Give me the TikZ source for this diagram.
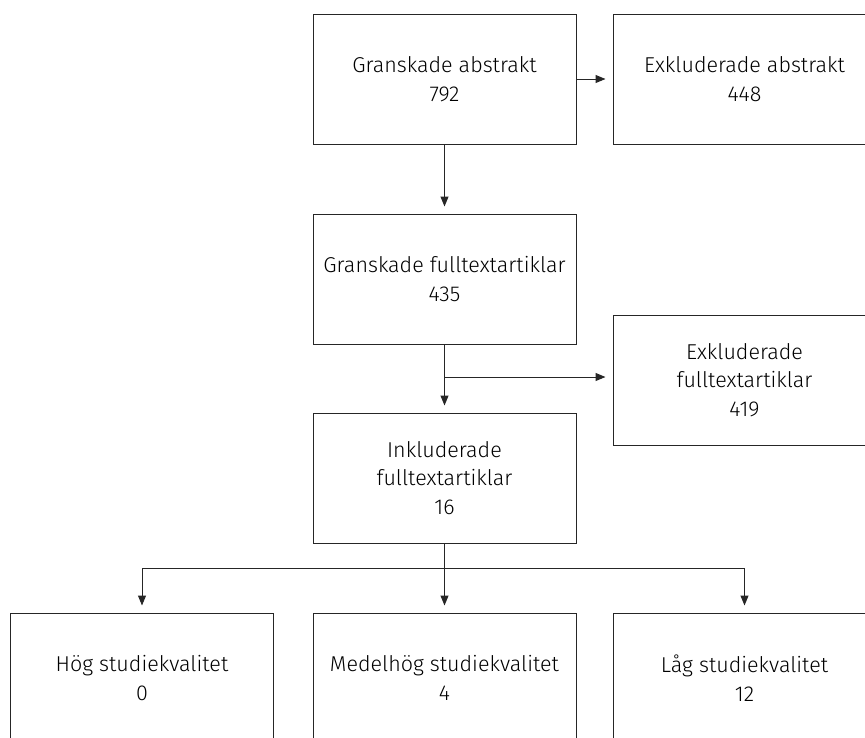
\documentclass[tikz,border=0pt]{standalone}
\usepackage{fontspec}
\setmainfont{Fira Sans}[UprightFont=* Light, Ligatures=NoCommon]
\usetikzlibrary{arrows.meta}
\tikzset{
  box/.style={draw=black!85, line width=1pt, minimum width=263pt, minimum height=130pt,
    align=center, inner sep=0pt, font=\fontsize{21.5}{28.5}\selectfont, text=black},
  arr/.style={-{Triangle[length=10pt,width=8pt]}, line width=1pt, draw=black!85, shorten >=7pt},
  conn/.style={line width=1pt, draw=black!85}
}
\begin{document}
\begin{tikzpicture}[x=1pt,y=-1pt]
\useasboundingbox (0,0) rectangle (865,737);
\clip (0,0) rectangle (865,737);
\node[box] (A) at (444.5,79) {Granskade abstrakt\\792};
\node[box] (B) at (744.5,79) {Exkluderade abstrakt\\448};
\node[box] (C) at (444.5,279) {Granskade fulltextartiklar\\435};
\node[box] (D) at (744.5,380) {Exkluderade\\fulltextartiklar\\419};
\node[box] (E) at (444.5,478) {Inkluderade\\fulltextartiklar\\16};
\node[box] (F) at (142,678) {Hög studiekvalitet\\0};
\node[box] (G) at (444.5,678) {Medelhög studiekvalitet\\4};
\node[box] (H) at (744.5,678) {Låg studiekvalitet\\12};
\draw[arr] (A) -- (B);
\draw[arr] (A) -- (C);
\draw[arr] (C) -- (E);
\coordinate (br) at (444.5,377);
\draw[arr] (br) -- (br -| D.west);
\coordinate (j) at (444.5,568);
\draw[conn] (E.south) -- (j);
\draw[arr] (j) -| (F);
\draw[arr] (j) -| (H);
\draw[arr] (j) -- (G);
\end{tikzpicture}
\end{document}
